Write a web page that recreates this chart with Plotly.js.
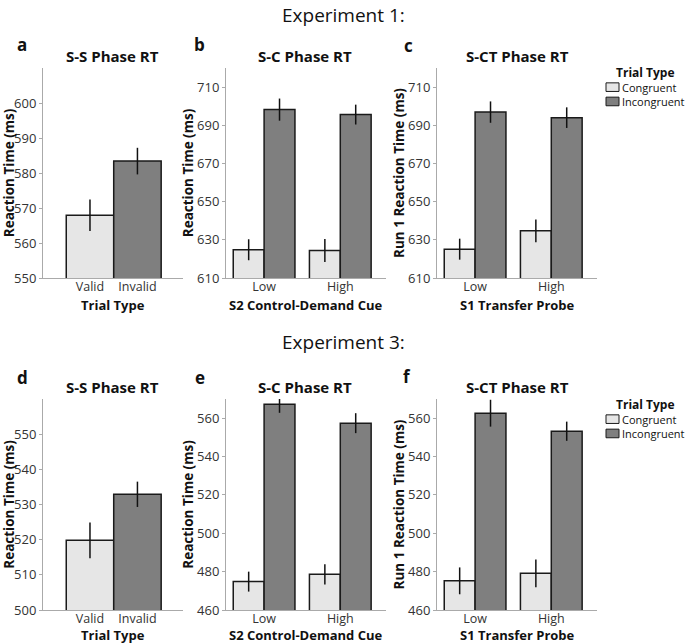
<!DOCTYPE html>
<html>
<head>
<meta charset="utf-8">
<script src="https://cdn.plot.ly/plotly-3.0.1.min.js"></script>
<style>html,body{margin:0;padding:0;background:#fff;}#chart{width:685px;height:644px;}</style>
</head>
<body>
<div id="chart"></div>
<script>
// ---------- data ----------
const ssCategories = ['Valid', 'Invalid'];
const cueCategories = ['Low', 'High'];
const seriesNames = ['Congruent', 'Incongruent'];

// Experiment 1
const exp1SS = [567.9, 583.4];
const exp1SSErr = [4.5, 3.8];
const exp1SCCong = [624.8, 624.4];
const exp1SCCongErr = [5.5, 6.0];
const exp1SCIncong = [698.2, 695.6];
const exp1SCIncongErr = [5.8, 5.2];
const exp1SCTCong = [625.1, 634.7];
const exp1SCTCongErr = [5.5, 6.0];
const exp1SCTIncong = [696.9, 694.0];
const exp1SCTIncongErr = [5.6, 5.4];

// Experiment 3
const exp3SS = [519.8, 532.9];
const exp3SSErr = [5.1, 3.6];
const exp3SCCong = [474.8, 478.6];
const exp3SCCongErr = [5.2, 5.3];
const exp3SCIncong = [567.3, 557.4];
const exp3SCIncongErr = [4.5, 5.2];
const exp3SCTCong = [475.2, 479.1];
const exp3SCTCongErr = [7.0, 7.2];
const exp3SCTIncong = [562.6, 553.2];
const exp3SCTIncongErr = [7.0, 5.0];

// tick values
const ticksA = [550, 560, 570, 580, 590, 600];
const ticksBC = [610, 630, 650, 670, 690, 710];
const ticksD = [500, 510, 520, 530, 540, 550];
const ticksEF = [460, 480, 500, 520, 540, 560];

// ---------- styling ----------
const W = 685, H = 644;
const FONT = 'Open Sans, Noto Sans, sans-serif';
const light = '#e6e6e6', dark = '#7f7f7f', edge = '#1a1a1a';
const fx = p => p / W;
const fy = p => 1 - p / H;

function errBar(arr) {
  return {type: 'data', array: arr, visible: true, width: 0, thickness: 1.5, color: '#111'};
}
function ssTrace(vals, errs, ax) {
  return {type: 'bar', x: ssCategories, y: vals, width: 1,
    marker: {color: [light, dark], line: {color: edge, width: 1.5}},
    error_y: errBar(errs), xaxis: 'x' + ax, yaxis: 'y' + ax, showlegend: false, hoverinfo: 'skip'};
}
function grpTrace(vals, errs, ax, idx) {
  return {type: 'bar', name: seriesNames[idx], x: cueCategories, y: vals,
    marker: {color: idx === 0 ? light : dark, line: {color: edge, width: 1.5}},
    error_y: errBar(errs), xaxis: 'x' + ax, yaxis: 'y' + ax, showlegend: false, hoverinfo: 'skip'};
}

const data = [
  ssTrace(exp1SS, exp1SSErr, ''),
  grpTrace(exp1SCCong, exp1SCCongErr, '2', 0),
  grpTrace(exp1SCIncong, exp1SCIncongErr, '2', 1),
  grpTrace(exp1SCTCong, exp1SCTCongErr, '3', 0),
  grpTrace(exp1SCTIncong, exp1SCTIncongErr, '3', 1),
  ssTrace(exp3SS, exp3SSErr, '4'),
  grpTrace(exp3SCCong, exp3SCCongErr, '5', 0),
  grpTrace(exp3SCIncong, exp3SCIncongErr, '5', 1),
  grpTrace(exp3SCTCong, exp3SCTCongErr, '6', 0),
  grpTrace(exp3SCTIncong, exp3SCTIncongErr, '6', 1)
];

const colX = [[43, 183], [226, 386], [437, 597]];
const rowY = [[68, 278], [399, 610]];
const tickFont = {family: FONT, size: 13, color: '#333'};

function xAx(col, range, anchor) {
  return {domain: [fx(colX[col][0]), fx(colX[col][1])], anchor: anchor,
    type: 'category', range: range, showline: true, linecolor: '#aaa', linewidth: 1,
    ticks: '', ticklabelstandoff: -3, showgrid: false, zeroline: false,
    tickfont: {family: FONT, size: 12.5, color: '#333'}, fixedrange: true};
}
function yAx(row, title, range, tickvals, anchor) {
  return {domain: [fy(rowY[row][1]), fy(rowY[row][0])], anchor: anchor,
    range: range, tickvals: tickvals, showline: true, linecolor: '#aaa', linewidth: 1,
    ticks: 'outside', ticklen: 3, tickcolor: '#aaa', showgrid: false, zeroline: false,
    tickfont: tickFont,
    title: {text: title, font: {family: FONT, size: 13.5, color: '#111', weight: 700}, standoff: 0},
    fixedrange: true};
}

const annotations = [];
function txt(text, x, y, size, bold, anchor) {
  annotations.push({text: text, x: fx(x), y: fy(y), xref: 'paper', yref: 'paper',
    showarrow: false, xanchor: anchor || 'center', yanchor: 'middle', borderpad: 0,
    align: anchor || 'center',
    font: {family: FONT, size: size, color: '#111', weight: bold ? 700 : 400}});
}
txt('Experiment 1:', 343, 15, 19, false);
txt('Experiment 3:', 343, 342, 19, false);
const letters = [['a', 22, 45], ['b', 200, 45], ['c', 408, 46], ['d', 22, 377], ['e', 200, 377], ['f', 407, 376]];
letters.forEach(l => txt(l[0], l[1], l[2], 17, true));
const panelTitles = [['S-S Phase RT', 113, 56], ['S-C Phase RT', 305, 56], ['S-CT Phase RT', 517, 56],
                     ['S-S Phase RT', 113, 387], ['S-C Phase RT', 305, 387], ['S-CT Phase RT', 517, 387]];
panelTitles.forEach(t => txt(t[0], t[1], t[2], 15, true));
// x-axis titles
const xTitles = [['Trial Type', 113, 304.5], ['S2 Control-Demand Cue', 305, 304.5], ['S1 Transfer Probe', 517, 304.5],
                 ['Trial Type', 113, 635], ['S2 Control-Demand Cue', 305, 635], ['S1 Transfer Probe', 517, 635]];
xTitles.forEach(t => txt(t[0], t[1], t[2], 13, true));

// manual legends (title + one two-line label block + swatches)
const shapes = [];
const lineGap = 14.3;
[72, 404].forEach(ty => {
  txt('Trial Type', 645, ty, 12, true);
  const blockMid = ty + 22.3;
  txt(seriesNames.join('<br>'), 620.5, blockMid, 11, false, 'left');
  seriesNames.forEach((nm, i) => {
    const cy = blockMid + (i - 0.5) * lineGap;
    shapes.push({type: 'rect', xref: 'paper', yref: 'paper', x0: fx(606), x1: fx(619),
      y0: fy(cy + 4.3), y1: fy(cy - 4.3), fillcolor: i === 0 ? light : dark, line: {color: edge, width: 1}});
  });
});

const layout = {
  width: W, height: H, margin: {l: 0, r: 0, t: 0, b: 0},
  paper_bgcolor: '#fff', plot_bgcolor: '#fff',
  barmode: 'group', bargap: 0.19, bargroupgap: 0, showlegend: false,
  font: {family: FONT},
  xaxis: xAx(0, [-0.99, 1.96], 'y'),
  yaxis: yAx(0, 'Reaction Time (ms)', [550, 610], ticksA, 'x'),
  xaxis2: xAx(1, [-0.5, 1.6], 'y2'),
  yaxis2: yAx(0, 'Reaction Time (ms)', [610, 720], ticksBC, 'x2'),
  xaxis3: xAx(2, [-0.5, 1.6], 'y3'),
  yaxis3: yAx(0, 'Run 1 Reaction Time (ms)', [610, 720], ticksBC, 'x3'),
  xaxis4: xAx(0, [-0.99, 1.96], 'y4'),
  yaxis4: yAx(1, 'Reaction Time (ms)', [500, 560], ticksD, 'x4'),
  xaxis5: xAx(1, [-0.5, 1.6], 'y5'),
  yaxis5: yAx(1, 'Reaction Time (ms)', [460, 570], ticksEF, 'x5'),
  xaxis6: xAx(2, [-0.5, 1.6], 'y6'),
  yaxis6: yAx(1, 'Run 1 Reaction Time (ms)', [460, 570], ticksEF, 'x6'),
  annotations: annotations,
  shapes: shapes
};
Plotly.newPlot('chart', data, layout, {displayModeBar: false, staticPlot: true});
</script>
</body>
</html>
